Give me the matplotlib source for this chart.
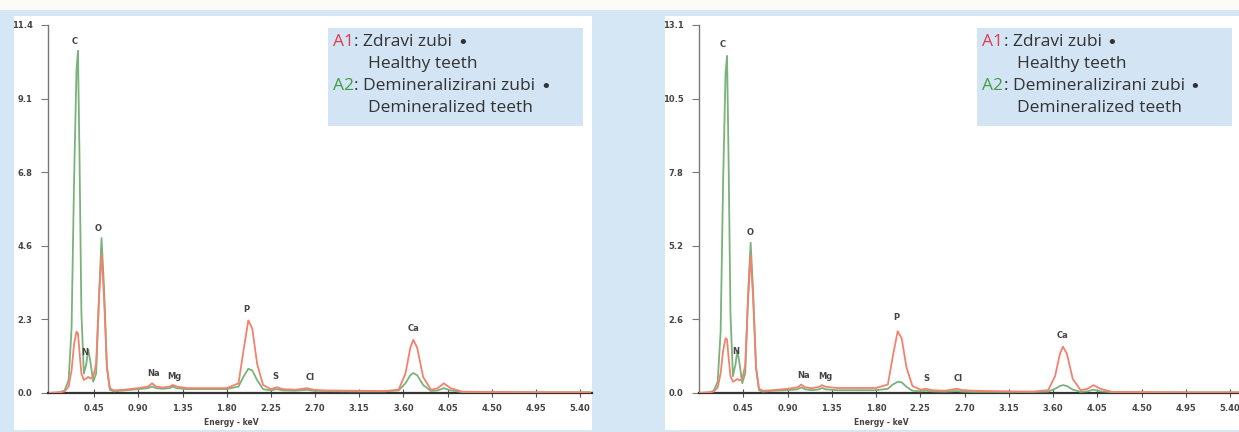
import matplotlib
matplotlib.use("Agg")
import matplotlib.pyplot as plt
from matplotlib.patches import Rectangle

# ---------------- data ----------------
energy = [0.00, 0.10, 0.15, 0.19, 0.22, 0.245, 0.27, 0.285, 0.30, 0.32, 0.345, 0.37, 0.39, 0.41,
          0.44, 0.47, 0.50, 0.525, 0.55, 0.58, 0.61, 0.65, 0.75, 0.90, 1.00, 1.04, 1.08, 1.15,
          1.22, 1.25, 1.29, 1.40, 1.60, 1.80, 1.92, 1.97, 2.02, 2.06, 2.11, 2.17, 2.25, 2.31,
          2.37, 2.50, 2.62, 2.68, 2.80, 3.10, 3.40, 3.55, 3.62, 3.67, 3.70, 3.74, 3.80, 3.88,
          3.95, 4.01, 4.08, 4.20, 4.60, 5.00, 5.50]

left_healthy = [0.0, 0.02, 0.05, 0.2, 0.7, 1.5, 1.9, 1.85, 1.3, 0.6, 0.4, 0.45, 0.5, 0.45,
                0.5, 0.9, 3.0, 4.3, 3.0, 0.8, 0.15, 0.08, 0.1, 0.15, 0.2, 0.3, 0.2, 0.17,
                0.2, 0.25, 0.2, 0.15, 0.15, 0.15, 0.3, 1.3, 2.25, 2.0, 0.9, 0.25, 0.12, 0.18,
                0.12, 0.1, 0.15, 0.1, 0.08, 0.07, 0.06, 0.1, 0.6, 1.4, 1.65, 1.4, 0.5, 0.1,
                0.15, 0.3, 0.15, 0.04, 0.03, 0.02, 0.02]
left_demin = [0.0, 0.02, 0.08, 0.4, 2.0, 6.5, 10.0, 10.6, 7.5, 2.5, 0.6, 0.9, 1.35, 1.0,
              0.35, 0.6, 3.0, 4.8, 3.3, 0.8, 0.1, 0.05, 0.08, 0.12, 0.15, 0.2, 0.15, 0.13,
              0.15, 0.2, 0.15, 0.12, 0.12, 0.12, 0.2, 0.5, 0.75, 0.7, 0.4, 0.12, 0.08, 0.12,
              0.08, 0.07, 0.1, 0.07, 0.06, 0.05, 0.05, 0.08, 0.3, 0.55, 0.62, 0.55, 0.25, 0.06,
              0.08, 0.15, 0.08, 0.03, 0.03, 0.02, 0.02]

right_healthy = [0.0, 0.02, 0.05, 0.2, 0.7, 1.5, 1.95, 1.9, 1.3, 0.6, 0.4, 0.45, 0.5, 0.45,
                 0.5, 1.0, 3.4, 4.9, 3.4, 0.9, 0.15, 0.08, 0.1, 0.15, 0.2, 0.3, 0.2, 0.17,
                 0.22, 0.28, 0.22, 0.18, 0.18, 0.18, 0.3, 1.3, 2.2, 1.95, 0.9, 0.25, 0.12, 0.15,
                 0.1, 0.08, 0.15, 0.1, 0.08, 0.06, 0.05, 0.1, 0.6, 1.4, 1.65, 1.4, 0.5, 0.1,
                 0.15, 0.28, 0.15, 0.04, 0.03, 0.02, 0.02]
right_demin = [0.0, 0.02, 0.08, 0.4, 2.2, 7.5, 11.4, 12.0, 8.5, 2.8, 0.6, 1.0, 1.5, 1.1,
               0.35, 0.7, 3.6, 5.35, 3.6, 0.9, 0.1, 0.05, 0.08, 0.1, 0.13, 0.2, 0.13, 0.1,
               0.13, 0.18, 0.13, 0.1, 0.1, 0.1, 0.15, 0.3, 0.4, 0.38, 0.22, 0.08, 0.06, 0.08,
               0.06, 0.05, 0.07, 0.05, 0.04, 0.04, 0.04, 0.05, 0.15, 0.25, 0.28, 0.25, 0.12, 0.04,
               0.06, 0.12, 0.06, 0.03, 0.02, 0.02, 0.02]

x_ticks = [0.45, 0.90, 1.35, 1.80, 2.25, 2.70, 3.15, 3.60, 4.05, 4.50, 4.95, 5.40]
x_ticklabels = ["0.45", "0.90", "1.35", "1.80", "2.25", "2.70", "3.15", "3.60", "4.05", "4.50", "4.95", "5.40"]

left_ymax = 11.4
left_yticklabels = ["0.0", "2.3", "4.6", "6.8", "9.1", "11.4"]
right_ymax = 13.1
right_yticklabels = ["0.0", "2.6", "5.2", "7.8", "10.5", "13.1"]

elements = ["C", "N", "O", "Na", "Mg", "P", "S", "Cl", "Ca"]
left_label_x = [0.255, 0.35, 0.49, 1.05, 1.27, 2.00, 2.30, 2.65, 3.70]
left_label_y = [10.9, 1.27, 5.1, 0.6, 0.52, 2.6, 0.52, 0.47, 2.0]
right_label_x = [0.24, 0.37, 0.52, 1.06, 1.28, 2.01, 2.31, 2.63, 3.70]
right_label_y = [12.4, 1.46, 5.7, 0.64, 0.6, 2.67, 0.53, 0.53, 2.03]

legend_keys = ["A1", None, "A2", None]
legend_key_colors = ["#e23a4b", None, "#3f9e46", None]
legend_texts = [": Zdravi zubi ", "Healthy teeth", ": Demineralizirani zubi ", "Demineralized teeth"]
legend_bullets = [True, False, True, False]

# ---------------- style ----------------
W, H = 1239, 432
BLUE = "#d5e6f5"
RED = "#f2826e"
GREEN = "#79b27a"
TXT = "#333333"

fig = plt.figure(figsize=(W / 100, H / 100), dpi=100)
fig.patch.set_facecolor(BLUE)
renderer = fig.canvas.get_renderer()


def rect_px(x0, y0, x1, y1, color, z=0):
    fig.add_artist(Rectangle((x0 / W, 1 - y1 / H), (x1 - x0) / W, (y1 - y0) / H,
                             transform=fig.transFigure, facecolor=color, edgecolor="none", zorder=z))


rect_px(0, 0, W, 10, "#fcfbf6")
rect_px(14, 16, 592, 430, "white")
rect_px(665, 16, W, 430, "white")

FS = 12.5
FAM = ["Open Sans", "DejaVu Sans"]


def draw_legend(bx0, by0, bx1, by1):
    rect_px(bx0, by0, bx1, by1, "#d3e4f4", z=5)
    rows_y = [42, 64, 86, 108]
    for key, kcol, txt, bul, ry in zip(legend_keys, legend_key_colors, legend_texts,
                                       legend_bullets, rows_y):
        if key is not None:
            k = fig.text((bx0 + 5) / W, 1 - ry / H, key, color=kcol, fontsize=FS, family=FAM,
                         va="center", ha="left", zorder=6)
            x = bx0 + 5 + k.get_window_extent(renderer).width + 0.5
        else:
            x = bx0 + 40
        t = fig.text(x / W, 1 - ry / H, txt, color=TXT, fontsize=FS, family=FAM,
                     va="center", ha="left", zorder=6)
        if bul:
            w = t.get_window_extent(renderer).width
            fig.text((x + w) / W, 1 - (ry + 1) / H, "\u2022", color=TXT, fontsize=FS * 1.05,
                     family=["DejaVu Sans"], va="center", ha="left", zorder=6)


def make_panel(ax_px, xlim, ymax, ylabels, healthy, demin, lx, ly, box_px):
    x0, y0, x1, y1 = ax_px
    ax = fig.add_axes([x0 / W, 1 - y1 / H, (x1 - x0) / W, (y1 - y0) / H])
    ax.set_facecolor("none")
    ax.plot(energy, demin, color=GREEN, lw=1.3, zorder=3)
    ax.plot(energy, healthy, color=RED, lw=1.3, zorder=4)
    ax.set_xlim(*xlim)
    ax.set_ylim(0, ymax)
    ax.set_yticks([ymax * k / 5 for k in range(6)])
    ax.set_yticklabels(ylabels)
    ax.set_xticks(x_ticks)
    ax.set_xticklabels(x_ticklabels)
    for s in ("top", "right"):
        ax.spines[s].set_visible(False)
    ax.spines["left"].set_color("#777777")
    ax.spines["left"].set_linewidth(1.0)
    ax.spines["bottom"].set_color("#333333")
    ax.spines["bottom"].set_linewidth(1.6)
    ax.tick_params(axis="y", direction="out", length=5, width=0.8, color="#777777",
                   labelsize=6, labelcolor="#444444", pad=6)
    ax.tick_params(axis="x", direction="inout", length=6, width=0.8, color="#555555",
                   labelsize=6, labelcolor="#444444", pad=5)
    for lab in ax.get_xticklabels() + ax.get_yticklabels():
        lab.set_fontweight("bold")
    ax.text(1.85, -0.079, "Energy - keV", transform=ax.get_xaxis_transform(),
            ha="center", va="center", fontsize=5.5, color="#444444", fontweight="bold")
    for el, ex, ey in zip(elements, lx, ly):
        ax.text(ex, ey, el, ha="center", va="center", fontsize=6, color="#444444",
                fontweight="bold", zorder=5)
    draw_legend(*box_px)
    return ax


make_panel((48, 25, 592, 393), (-0.02, 5.52), left_ymax, left_yticklabels, left_healthy, left_demin,
           left_label_x, left_label_y, (328, 28, 583, 126))
make_panel((699, 25, 1239, 393), (0.0, 5.49), right_ymax, right_yticklabels, right_healthy, right_demin,
           right_label_x, right_label_y, (977, 28, 1232, 126))

fig.savefig("out.png", dpi=100, facecolor=fig.get_facecolor())
